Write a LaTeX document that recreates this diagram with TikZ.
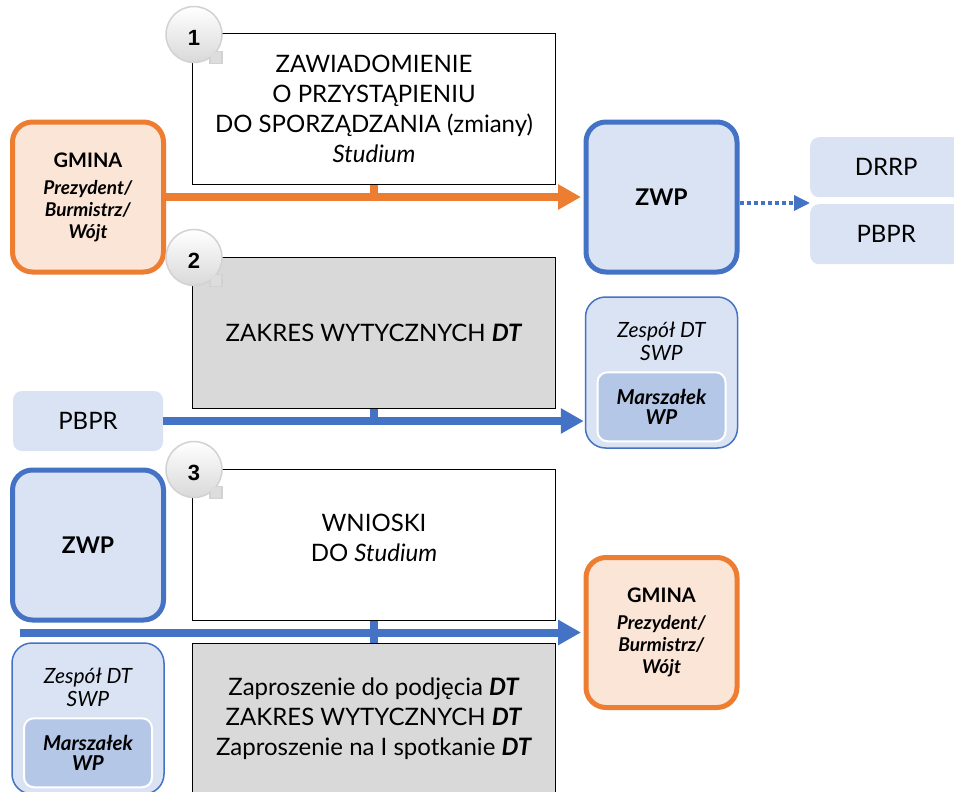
\documentclass[tikz,border=0pt]{standalone}
\usepackage{fontspec}
\setmainfont{Lato}
\newfontfamily\badgefont{Liberation Sans}
\usetikzlibrary{arrows.meta,positioning}
\definecolor{zwpblue}{HTML}{4472C4}
\definecolor{zwpfill}{HTML}{DAE3F3}
\definecolor{marfill}{HTML}{B4C7E7}
\definecolor{gmorange}{HTML}{ED7D31}
\definecolor{gmfill}{HTML}{FBE5D6}
\definecolor{stepfill}{HTML}{D9D9D9}
\newcommand{\bDT}{\textbf{\textit{DT}}}
\begin{document}
\begin{tikzpicture}[x=1pt,y=-1pt,
  stepbox/.style={draw=black,line width=1pt,minimum width=363pt,align=center,
    font=\fontsize{24}{30}\selectfont},
  stepwhite/.style={stepbox,fill=white},
  stepgray/.style={stepbox,fill=stepfill},
  steptext/.style={align=center,font=\fontsize{24}{30}\selectfont},
  actor/.style={rounded corners=20pt,line width=5pt,minimum width=151pt,
    minimum height=150pt,align=center},
  gminabox/.style={actor,draw=gmorange,fill=gmfill,
    font=\bfseries\fontsize{19}{22}\selectfont},
  zwpbox/.style={actor,draw=zwpblue,fill=zwpfill,
    font=\bfseries\fontsize{23}{28}\selectfont},
  teambox/.style={rounded corners=20pt,draw=zwpblue,line width=1.5pt,fill=zwpfill,
    minimum width=152pt,minimum height=151pt},
  teamtext/.style={align=center,font=\itshape\fontsize{21}{23}\selectfont},
  marbox/.style={rounded corners=10pt,draw=white,line width=2pt,fill=marfill,
    minimum width=128pt,minimum height=69pt,align=center,
    font=\bfseries\itshape\fontsize{20.5}{20}\selectfont},
  srcbox/.style={rounded corners=9pt,fill=zwpfill,minimum height=60pt,
    font=\fontsize{24}{28}\selectfont},
  badge/.style={circle,draw=gray!35,line width=1.5pt,top color=white,
    bottom color=gray!30,minimum size=56pt,inner sep=0pt},
  badgenum/.style={font=\badgefont\bfseries\fontsize{22}{22}\selectfont},
  badgetab/.style={fill=gray!27,draw=gray!35,line width=1.5pt},
  tabfill/.style={fill=gray!27},
  flow/.style={line width=8pt,-{Triangle[length=23pt,width=24pt]}},
  dotflow/.style={zwpblue,line width=3.5pt,dash pattern=on 4pt off 3pt,
    -{Triangle[length=16pt,width=15pt]}},
  tick/.style={line width=8pt}
]
\path[use as bounding box,fill=white] (0,0) rectangle (954,792);

% step boxes
\node[stepwhite,minimum height=150pt] (step1) at (374,109)
  {ZAWIADOMIENIE\\O PRZYSTĄPIENIU\\DO SPORZĄDZANIA (zmiany)\\\textit{Studium}};
\node[stepgray,minimum height=151pt] (step2) at (374,332.5)
  {ZAKRES WYTYCZNYCH \bDT};
\node[stepwhite,minimum height=151pt] (step3) at (374,544.5) {};
\node[steptext] (step3t) at ([yshift=7pt]step3.center) {WNIOSKI\\DO \textit{Studium}};
\node[stepgray,minimum height=152pt] (step4) at (374,719)
  {Zaproszenie do podjęcia \bDT\\ZAKRES WYTYCZNYCH \bDT\\Zaproszenie na I spotkanie \bDT};

% step 1
\node[gminabox] (gmina1) at (88,197)
  {{\fontsize{20}{22}\selectfont GMINA}\\[5pt]\textit{Prezydent/}\\\textit{Burmistrz/}\\\textit{Wójt}};
\node[zwpbox] (zwp1) at (661.5,197) {ZWP};
\node[srcbox,minimum width=152pt,anchor=north west] (drrp) at (810,137) {DRRP};
\node[srcbox,minimum width=152pt,anchor=north west] (pbpr1) at (810,204) {PBPR};
\coordinate (gap1) at (810,203);

% step 2
\node[srcbox,minimum width=150pt] (pbpr2) at (88,421) {PBPR};
\node[teambox] (zespol1) at (661.5,372.5) {};
\node[teamtext] (zespol1t) at ([yshift=-45pt]zespol1.north) {Zespół DT\\SWP};
\node[marbox,below=75pt of zespol1.north] (mar1) {Marszałek\\WP};

% step 3
\node[zwpbox] (zwp2) at (88,545) {ZWP};
\node[gminabox] (gmina2) at (661.5,632.5)
  {{\fontsize{20}{22}\selectfont GMINA}\\[5pt]\textit{Prezydent/}\\\textit{Burmistrz/}\\\textit{Wójt}};
\node[teambox] (zespol2) at (88,718.5) {};
\node[teamtext] (zespol2t) at ([yshift=-45pt]zespol2.north) {Zespół DT\\SWP};
\node[marbox,below=75pt of zespol2.north] (mar2) {Marszałek\\WP};
\coordinate (in3) at (20,632.5);

% connectors
\draw[flow,gmorange,shorten >=2.5pt] (gmina1.east) -- (zwp1.west);
\draw[tick,gmorange] (step1.south) -- (step1.south |- gmina1.east);
\draw[dotflow] (zwp1.east |- gap1) -- (gap1);
\draw[flow,zwpblue,shorten >=1pt] (pbpr2.east) -- (pbpr2.east -| zespol1.west);
\draw[tick,zwpblue] (step2.south) -- (step2.south |- pbpr2.east);
\draw[flow,zwpblue,shorten >=2.5pt] (in3) -- (gmina2.west);
\draw[tick,zwpblue] (step3.south) -- (step4.north);

% badges
\filldraw[badgetab] ([shift={(18,18)}]step1.north west) rectangle ++(12,12);
\node[badge] (badge1) at ([shift={(2,1)}]step1.north west) {};
\fill[tabfill] ([shift={(18.8,18.8)}]step1.north west) rectangle ++(10.4,10.4);
\node[badgenum] (badge1n) at ([yshift=-3pt]badge1.center) {1};
\filldraw[badgetab] ([shift={(18,18)}]step2.north west) rectangle ++(12,12);
\node[badge] (badge2) at ([shift={(2,1)}]step2.north west) {};
\fill[tabfill] ([shift={(18.8,18.8)}]step2.north west) rectangle ++(10.4,10.4);
\node[badgenum] (badge2n) at ([yshift=-3pt]badge2.center) {2};
\filldraw[badgetab] ([shift={(18,18)}]step3.north west) rectangle ++(12,12);
\node[badge] (badge3) at ([shift={(2,1)}]step3.north west) {};
\fill[tabfill] ([shift={(18.8,18.8)}]step3.north west) rectangle ++(10.4,10.4);
\node[badgenum] (badge3n) at ([yshift=-3pt]badge3.center) {3};
\end{tikzpicture}
\end{document}
